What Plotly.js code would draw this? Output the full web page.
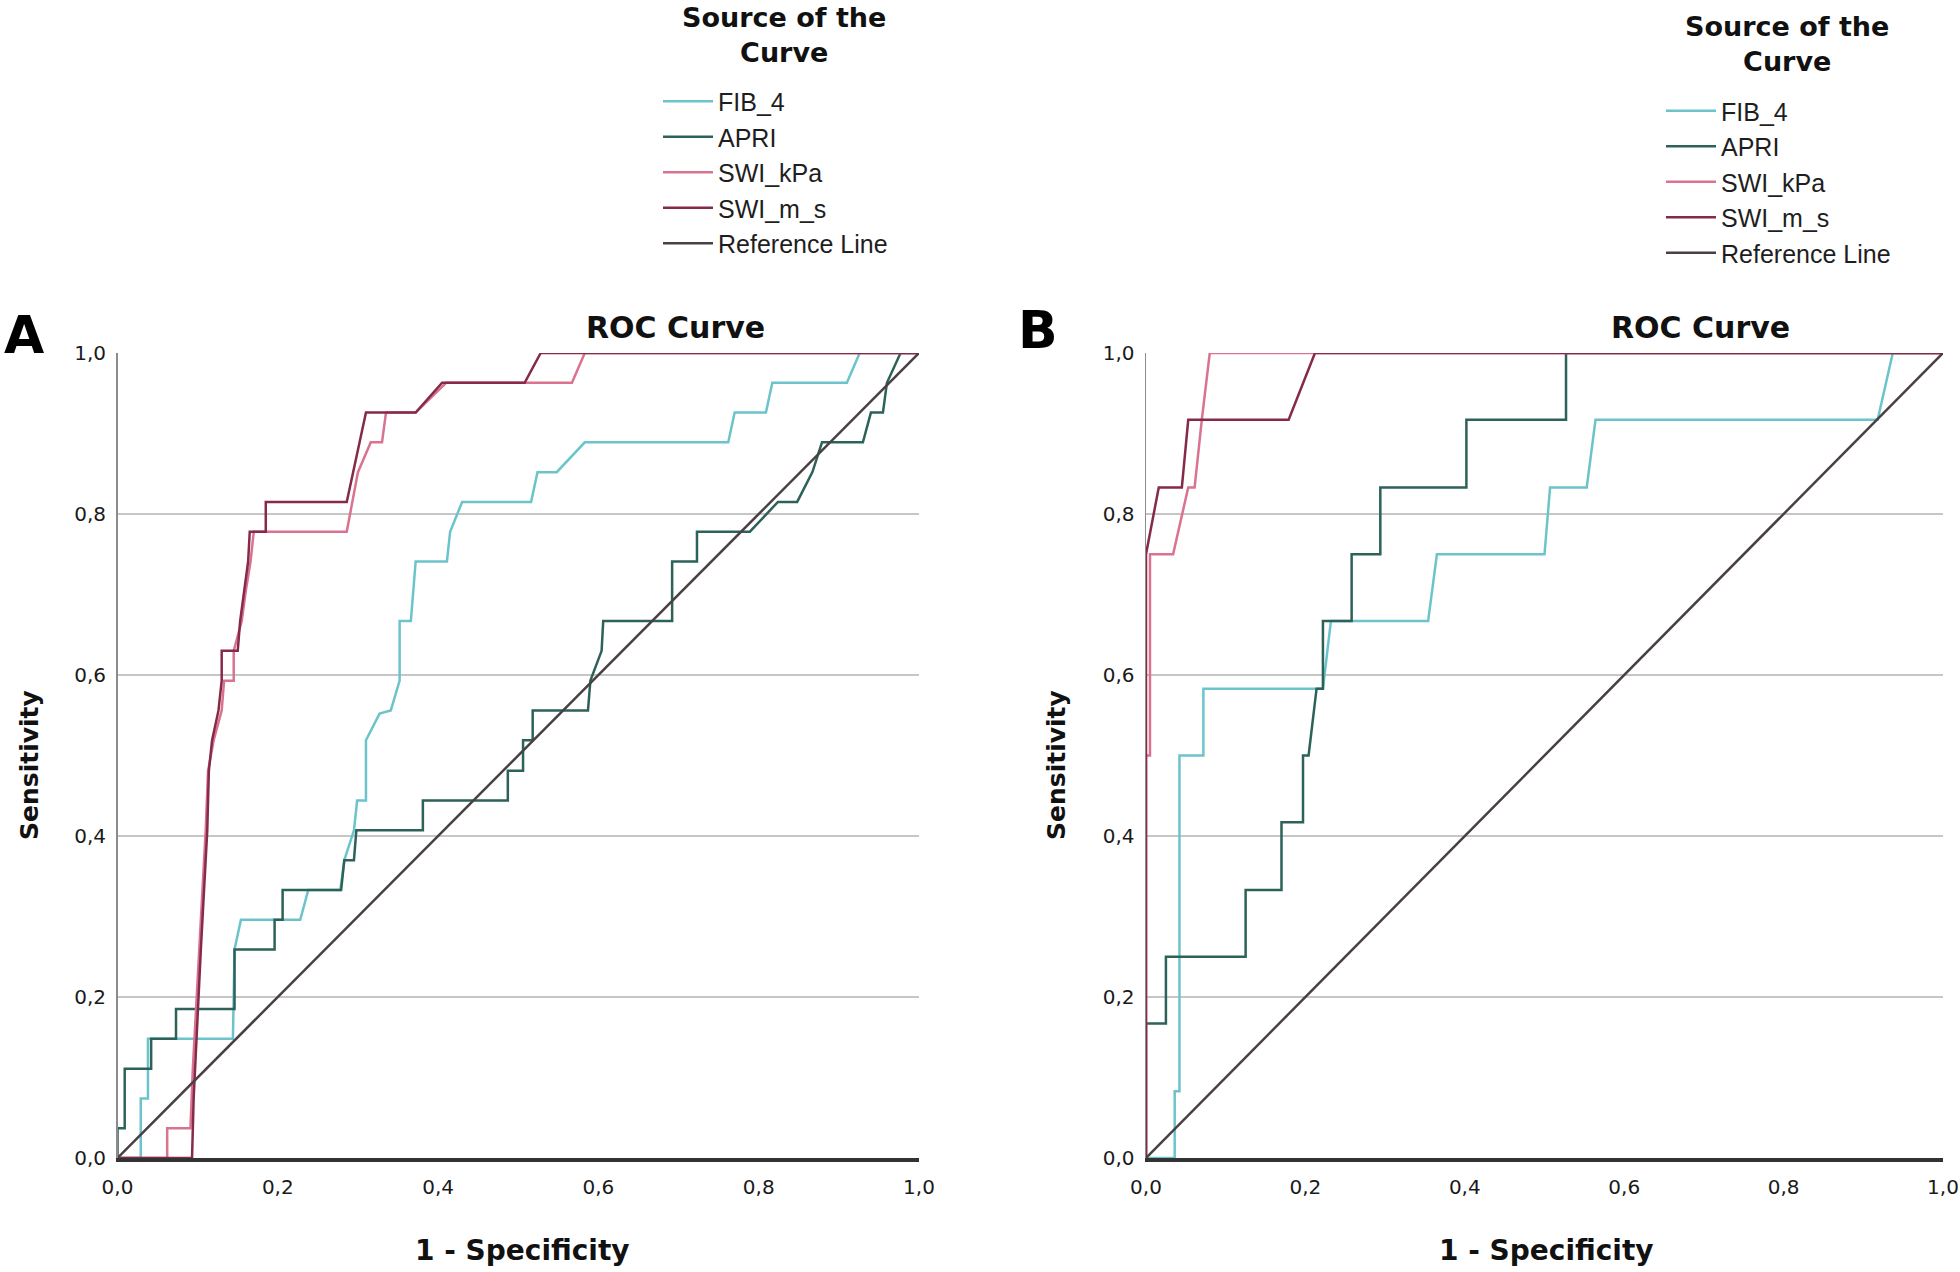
<!DOCTYPE html>
<html><head><meta charset="utf-8">
<script src="https://cdn.plot.ly/plotly-3.0.1.min.js"></script>
<style>html,body{margin:0;padding:0;background:#fff}#chart{width:1960px;height:1272px}</style>
</head><body><div id="chart"></div>
<script>
// ---------- data ----------
const seriesNames = ['FIB_4', 'APRI', 'SWI_kPa', 'SWI_m_s'];
const refName = 'Reference Line';
const legendTitle = 'Source of the<br>Curve';
const tickVals = [0, 0.2, 0.4, 0.6, 0.8, 1.0];
const tickText = ['0,0', '0,2', '0,4', '0,6', '0,8', '1,0'];
const refX = [0, 1];
const refY = [0, 1];

// Panel A (1 - specificity, sensitivity)
const aFib4X = [0, 0.029, 0.029, 0.038, 0.038, 0.144, 0.146, 0.154, 0.228, 0.238, 0.278, 0.283, 0.295, 0.299, 0.31, 0.31, 0.327, 0.341, 0.352, 0.352, 0.366, 0.372, 0.411, 0.415, 0.43, 0.516, 0.524, 0.548, 0.583, 0.762, 0.77, 0.809, 0.817, 0.91, 0.926, 1];
const aFib4Y = [0, 0, 0.074, 0.074, 0.148, 0.148, 0.259, 0.296, 0.296, 0.333, 0.333, 0.37, 0.407, 0.444, 0.444, 0.519, 0.552, 0.556, 0.593, 0.667, 0.667, 0.741, 0.741, 0.778, 0.815, 0.815, 0.852, 0.852, 0.889, 0.889, 0.926, 0.926, 0.963, 0.963, 1, 1];
const aApriX = [0, 0, 0.009, 0.009, 0.042, 0.042, 0.073, 0.073, 0.146, 0.146, 0.196, 0.196, 0.206, 0.206, 0.279, 0.283, 0.295, 0.298, 0.381, 0.381, 0.487, 0.487, 0.506, 0.506, 0.518, 0.518, 0.587, 0.59, 0.604, 0.606, 0.692, 0.692, 0.723, 0.723, 0.789, 0.824, 0.848, 0.867, 0.879, 0.93, 0.94, 0.955, 0.96, 0.977, 1];
const aApriY = [0, 0.037, 0.037, 0.111, 0.111, 0.148, 0.148, 0.185, 0.185, 0.259, 0.259, 0.296, 0.296, 0.333, 0.333, 0.37, 0.37, 0.407, 0.407, 0.444, 0.444, 0.481, 0.481, 0.519, 0.519, 0.556, 0.556, 0.593, 0.63, 0.667, 0.667, 0.741, 0.741, 0.778, 0.778, 0.815, 0.815, 0.852, 0.889, 0.889, 0.926, 0.926, 0.963, 1, 1];
const aKpaX = [0, 0.062, 0.062, 0.091, 0.094, 0.098, 0.102, 0.106, 0.11, 0.113, 0.12, 0.13, 0.133, 0.145, 0.145, 0.155, 0.16, 0.166, 0.17, 0.286, 0.3, 0.316, 0.33, 0.335, 0.372, 0.41, 0.567, 0.583, 1];
const aKpaY = [0, 0, 0.037, 0.037, 0.111, 0.185, 0.259, 0.333, 0.407, 0.481, 0.519, 0.556, 0.593, 0.593, 0.63, 0.667, 0.704, 0.741, 0.778, 0.778, 0.852, 0.889, 0.889, 0.926, 0.926, 0.963, 0.963, 1, 1];
const aMsX = [0, 0.093, 0.095, 0.1, 0.104, 0.108, 0.112, 0.114, 0.118, 0.126, 0.13, 0.13, 0.15, 0.153, 0.158, 0.163, 0.165, 0.185, 0.185, 0.286, 0.31, 0.372, 0.405, 0.508, 0.528, 1];
const aMsY = [0, 0, 0.074, 0.185, 0.259, 0.333, 0.407, 0.481, 0.519, 0.556, 0.593, 0.63, 0.63, 0.667, 0.704, 0.741, 0.778, 0.778, 0.815, 0.815, 0.926, 0.926, 0.963, 0.963, 1, 1];

// Panel B
const bFib4X = [0, 0.036, 0.036, 0.042, 0.042, 0.072, 0.072, 0.222, 0.232, 0.354, 0.365, 0.5, 0.507, 0.553, 0.564, 0.918, 0.937, 1];
const bFib4Y = [0, 0, 0.083, 0.083, 0.5, 0.5, 0.583, 0.583, 0.667, 0.667, 0.75, 0.75, 0.833, 0.833, 0.917, 0.917, 1, 1];
const bApriX = [0, 0, 0.025, 0.025, 0.125, 0.125, 0.17, 0.17, 0.197, 0.197, 0.204, 0.214, 0.222, 0.222, 0.258, 0.258, 0.294, 0.294, 0.402, 0.402, 0.527, 0.527, 1];
const bApriY = [0, 0.167, 0.167, 0.25, 0.25, 0.333, 0.333, 0.417, 0.417, 0.5, 0.5, 0.583, 0.583, 0.667, 0.667, 0.75, 0.75, 0.833, 0.833, 0.917, 0.917, 1, 1];
const bKpaX = [0, 0, 0.005, 0.005, 0.034, 0.053, 0.061, 0.07, 0.08, 1];
const bKpaY = [0, 0.5, 0.5, 0.75, 0.75, 0.833, 0.833, 0.917, 1, 1];
const bMsX = [0, 0, 0.016, 0.045, 0.053, 0.179, 0.212, 1];
const bMsY = [0, 0.75, 0.833, 0.833, 0.917, 0.917, 1, 1];

// ---------- styles ----------
const colors = {FIB_4: '#6cc4cb', APRI: '#2d6259', SWI_kPa: '#d9738f', SWI_m_s: '#852a48', ref: '#4a3f43'};
const LW = 2.5;

function curve(name, x, y, xa, ya, leg) {
  return {type: 'scatter', mode: 'lines', name: name, x: x, y: y, xaxis: xa, yaxis: ya,
    legend: leg, cliponaxis: false, line: {color: colors[name], width: LW, shape: 'linear'},
    hoverinfo: 'skip'};
}
function refLine(xa, ya, leg) {
  return {type: 'scatter', mode: 'lines', name: refName, x: refX, y: refY, xaxis: xa, yaxis: ya,
    legend: leg, cliponaxis: false, line: {color: colors.ref, width: LW}, hoverinfo: 'skip'};
}
const traces = [
  curve('FIB_4', aFib4X, aFib4Y, 'x', 'y', 'legend'),
  curve('APRI', aApriX, aApriY, 'x', 'y', 'legend'),
  curve('SWI_kPa', aKpaX, aKpaY, 'x', 'y', 'legend'),
  curve('SWI_m_s', aMsX, aMsY, 'x', 'y', 'legend'),
  refLine('x', 'y', 'legend'),
  curve('FIB_4', bFib4X, bFib4Y, 'x2', 'y2', 'legend2'),
  curve('APRI', bApriX, bApriY, 'x2', 'y2', 'legend2'),
  curve('SWI_kPa', bKpaX, bKpaY, 'x2', 'y2', 'legend2'),
  curve('SWI_m_s', bMsX, bMsY, 'x2', 'y2', 'legend2'),
  refLine('x2', 'y2', 'legend2')
];

const W = 1960, H = 1272;
const px = v => v / W, py = v => 1 - v / H;
const yDom = [py(1158), py(353)];
const tickFont = {family: 'DejaVu Sans, sans-serif', size: 20, color: '#1a1a1a'};
function xAxis(dom, anchor) {
  return {domain: dom, anchor: anchor, range: [0, 1], tickvals: tickVals, ticktext: tickText, tickfont: tickFont,
    ticks: '', showgrid: false, zeroline: false, showline: true, linecolor: '#333333', linewidth: 4,
    ticklabelstandoff: 8, fixedrange: true};
}
function yAxis(dom, anchor) {
  return {domain: dom, anchor: anchor, range: [0, 1], tickvals: tickVals, ticktext: tickText, tickfont: tickFont,
    ticks: '', showgrid: true, gridcolor: '#c6c6c6', gridwidth: 1.5, zeroline: false, showline: true,
    linecolor: '#8c8c8c', linewidth: 1.5, ticklabelstandoff: 6, fixedrange: true};
}
const legFont = {family: 'Liberation Sans, Arial, sans-serif', size: 25, color: '#1e1e1e'};
function legend(x, y) {
  return {x: x, y: y, xanchor: 'left', yanchor: 'top', bgcolor: 'rgba(0,0,0,0)', borderwidth: 0,
    font: legFont, itemwidth: 50, itemclick: false, itemdoubleclick: false};
}
const legTitleFont = {family: 'DejaVu Sans, sans-serif', size: 27, color: '#111', weight: 'bold'};
const titleFont = {family: 'DejaVu Sans, sans-serif', size: 30, color: '#111', weight: 'bold'};
const yTitleFont = {family: 'DejaVu Sans, sans-serif', size: 25, color: '#111', weight: 'bold'};
const xTitleFont = {family: 'DejaVu Sans, sans-serif', size: 28, color: '#111', weight: 'bold'};
const letterFont = {family: 'DejaVu Sans, sans-serif', size: 52, color: '#000', weight: 'bold'};
function ann(text, x, y, font, angle) {
  return {text: text, x: px(x), y: py(y), xref: 'paper', yref: 'paper', xanchor: 'center', yanchor: 'middle',
    align: 'center', showarrow: false, font: font, textangle: angle || 0};
}
const layout = {
  width: W, height: H, margin: {l: 0, r: 0, t: 0, b: 0}, paper_bgcolor: '#fff', plot_bgcolor: '#fff',
  showlegend: true,
  xaxis: xAxis([px(117.5), px(919)], 'y'),
  yaxis: yAxis(yDom, 'x'),
  xaxis2: xAxis([px(1146), px(1943)], 'y2'),
  yaxis2: yAxis(yDom, 'x2'),
  legend: legend(px(658), py(78.5)),
  legend2: legend(px(1661), py(88)),
  annotations: [
    ann(legendTitle, 784, 35, legTitleFont),
    ann(legendTitle, 1787, 44, legTitleFont),
    ann('A', 24, 335, letterFont),
    ann('B', 1038, 330, letterFont),
    ann('ROC Curve', 675, 328, titleFont),
    ann('ROC Curve', 1700, 328, titleFont),
    ann('Sensitivity', 30, 765, yTitleFont, -90),
    ann('Sensitivity', 1057, 765, yTitleFont, -90),
    ann('1 - Specificity', 522, 1250, xTitleFont),
    ann('1 - Specificity', 1546, 1250, xTitleFont)
  ]
};
Plotly.newPlot('chart', traces, layout, {displayModeBar: false, staticPlot: true});
</script>
</body></html>
